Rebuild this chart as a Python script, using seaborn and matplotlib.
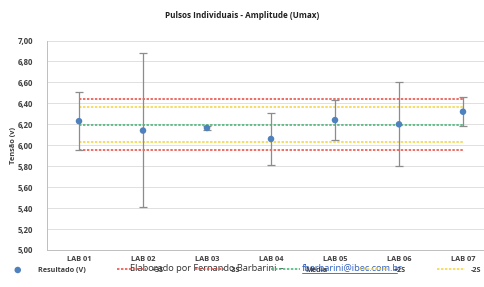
import pandas as pd
import seaborn as sns
import matplotlib.pyplot as plt
from matplotlib.lines import Line2D

# Dados
labs = ["LAB 01", "LAB 02", "LAB 03", "LAB 04", "LAB 05", "LAB 06", "LAB 07"]
resultado = [6.23, 6.14, 6.165, 6.06, 6.24, 6.20, 6.32]
erro_inf = [5.95, 5.41, 6.15, 5.81, 6.05, 5.80, 6.18]
erro_sup = [6.51, 6.88, 6.18, 6.31, 6.43, 6.60, 6.46]

media = 6.196
mais_2s = 6.362
menos_2s = 6.030
mais_3s = 6.443
menos_3s = 5.950

df = pd.DataFrame({"lab": labs, "resultado": resultado,
                   "inf": erro_inf, "sup": erro_sup})
df["x"] = range(len(df))

sns.set_style("white")
plt.rcParams["font.family"] = ["Open Sans", "DejaVu Sans"]

fig = plt.figure(figsize=(4.85, 2.87), dpi=100)
ax = fig.add_axes([47 / 485, 37 / 287, 448 / 485, 209.5 / 287])

# Linhas de referência
x0, x1 = 0, len(labs) - 1
estilo = dict(linewidth=1.1, linestyles=(0, (1.6, 1.0)))
ax.hlines(mais_3s, x0, x1, colors="#E8463C", label="+3S", zorder=2, **estilo)
ax.hlines(menos_3s, x0, x1, colors="#E8463C", label="-3S", zorder=2, **estilo)
ax.hlines(media, x0, x1, colors="#3CB371", label="Média", zorder=2, **estilo)
ax.hlines(mais_2s, x0, x1, colors="#F2D33A", label="+2S", zorder=2, **estilo)
ax.hlines(menos_2s, x0, x1, colors="#F2D33A", label="-2S", zorder=2, **estilo)

# Barras de erro
ax.errorbar(df["x"], df["resultado"],
            yerr=[df["resultado"] - df["inf"], df["sup"] - df["resultado"]],
            fmt="none", ecolor="#8C8C8C", elinewidth=0.9, capsize=3,
            capthick=0.9, zorder=3)

sns.scatterplot(data=df, x="x", y="resultado", ax=ax, color="#4F81BD",
                s=22, edgecolor="none", zorder=4, label="Resultado (V)")

ax.set_xlim(-0.5, len(labs) - 0.5)
ax.set_ylim(5.0, 7.0)
ax.set_yticks([5.0 + 0.2 * i for i in range(11)])
ax.set_yticklabels([f"{5.0 + 0.2 * i:.2f}".replace(".", ",") for i in range(11)],
                   fontsize=5.6, fontweight="bold", color="#404040")
ax.set_xticks(range(len(labs)))
ax.set_xticklabels(labs, fontsize=5.3, fontweight="bold", color="#404040")
ax.set_xticks([i - 0.5 for i in range(len(labs) + 1)], minor=True)
ax.tick_params(axis="x", which="major", length=0, pad=4)
ax.tick_params(axis="x", which="minor", length=3, color="#BFBFBF", width=0.7)
ax.tick_params(axis="y", length=0, pad=10)
ax.yaxis.grid(True, color="#E0E0E0", linewidth=0.7)
ax.set_axisbelow(True)
for lado in ["top", "right"]:
    ax.spines[lado].set_visible(False)
for lado in ["left", "bottom"]:
    ax.spines[lado].set_color("#BFBFBF")
    ax.spines[lado].set_linewidth(0.7)
ax.set_xlabel("")
ax.set_ylabel("Tensão (v)", fontsize=5.3, fontweight="bold", color="#404040")
ax.yaxis.set_label_coords(-0.068, 0.5)

fig.text(0.5, 0.945, "Pulsos Individuais - Amplitude (Umax)", ha="center",
         va="center", fontsize=5.9, fontweight="bold", color="#202020")

# Legenda
handles, labels = ax.get_legend_handles_labels()
ordem = ["Resultado (V)", "+3S", "-3S", "Média", "+2S", "-2S"]
hmap = dict(zip(labels, handles))
if ax.get_legend():
    ax.get_legend().remove()
fig.legend([hmap[l] for l in ordem], ordem, loc="center",
           bbox_to_anchor=(0.5, 0.058), ncol=6, frameon=False,
           prop={"size": 5.2, "weight": "bold"}, handlelength=4.0,
           columnspacing=4.3, handletextpad=0.8, labelcolor="#404040")

# Texto sobreposto
fig.text(0.268, 0.066, "Elaborado por Fernando Barbarini – ", ha="left",
         va="center", fontsize=6.7, color="#333333")
fig.text(0.622, 0.066, "fbarbarini@ibec.com.br", ha="left",
         va="center", fontsize=6.7, color="#2F5FC0")
fig.add_artist(Line2D([0.622, 0.818], [0.049, 0.049], transform=fig.transFigure,
                      color="#2F5FC0", linewidth=0.6))

fig.savefig("out.png", dpi=100)
